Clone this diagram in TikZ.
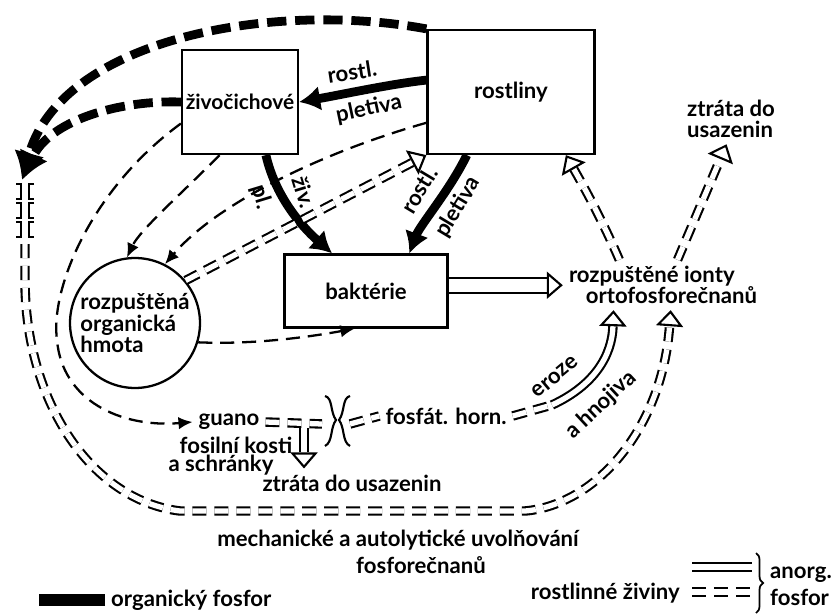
\documentclass[tikz,border=0pt]{standalone}
\usepackage{fontspec}
\setmainfont{Lato}
\usetikzlibrary{arrows.meta}
\usetikzlibrary{positioning}
\usetikzlibrary{decorations.pathreplacing}

\begin{document}
\begin{tikzpicture}[x=0.02cm, y=-0.02cm,
    every node/.style={font=\fontsize{12.6}{12.2}\selectfont\bfseries},
    box/.style={draw, line width=1.3pt, inner sep=0pt},
    org/.style={line width=5pt, -{Latex[length=0.42cm, width=0.5cm]}},
    orgdash/.style={line width=5pt, dash pattern=on 11pt off 5pt, -{Latex[length=0.55cm, width=0.62cm]}},
    detr/.style={line width=1.3pt, dash pattern=on 8pt off 4.5pt, -{Latex[length=0.28cm, width=0.25cm]}},
    inorg/.style={double, line width=1.2pt, double distance=3pt, dash pattern=on 8pt off 4.5pt},
    solid2/.style={double, line width=1.2pt, double distance=3pt},
    wide2/.style={double, line width=1.2pt, double distance=7.4pt},
    cut/.style={shorten >=0.32cm},
    tiponly/.style={line width=1.2pt, dash pattern=on 0pt off 400pt,
      -{Triangle[open, length=0.32cm, width=0.54cm]}}]
  \useasboundingbox (0,0) rectangle (835,615);

  % boxes
  \node[box, minimum width=2.32cm, minimum height=2.08cm, font=\fontsize{11.9}{12}\selectfont\bfseries] (ziv) at (240,102) {živočichové};
  \node[box, minimum width=3.34cm, minimum height=2.48cm] (rost) at (511,92) {rostliny};
  \node[box, minimum width=3.26cm, minimum height=1.46cm] (bakt) at (366,291) {baktérie};
  \node[draw, circle, line width=1.3pt, minimum size=2.6cm, inner sep=0pt, align=left] (rom) at (135,323) {rozpuštěná\\organická\\hmota};

  % texts
  \node[align=left] (ionty) at (663,285) {rozpuštěné ionty\\\hspace*{9.6pt}ortofosforečnanů};
  \node[align=left] (ztr1) at (731,119) {ztráta do\\usazenin};
  \node (guano) at (229,422) {guano};
  \node (fosil) at (236,445) {fosilní kosti};
  \node (schr) at (221,465) {a schránky};
  \node (ztr2) at (352,483) {ztráta do usazenin};
  \node (fosfat) at (446,416) {fosfát. horn.};
  \node (mech) at (398,540) {mechanické a autolytické uvolňování};
  \node (fosfor) at (421,565) {fosforečnanů};

  % organic phosphorus
  \draw[org] (rost.172) .. controls (390,84) and (340,95) .. (ziv.east);
  \node[rotate=9] (l1a) at (352,72) {rostl.};
  \node[rotate=12] (l1b) at (369,109) {pletiva};
  \draw[org] (ziv.-64) .. controls (275,195) and (300,225) .. (bakt.132);
  \node[rotate=-73] (l2a) at (304,192) {živ.};
  \node[rotate=-73] (l2b) at (261,197) {pl.};
  \draw[org] (rost.-125) .. controls (450,190) and (420,225) .. (bakt.41);
  \node[rotate=59] (l3a) at (419,190) {rostl.};
  \node[rotate=59] (l3b) at (458,207) {pletiva};

  \coordinate (leftin) at (22,180);
  \draw[orgdash] (rost.north west) .. controls (270,0) and (60,40) .. (leftin);
  \draw[orgdash] (ziv.west) .. controls (120,100) and (50,120) .. (leftin);

  % dissolved organic matter
  \draw[detr] (ziv.-160) .. controls (90,190) and (50,290) .. (57,340)
    .. controls (62,400) and (120,428) .. (guano.west);
  \draw[detr] (ziv.-111) .. controls (180,195) and (140,230) .. (rom.97);
  \draw[detr] (rost.-160) .. controls (330,150) and (220,200) .. (rom.63);
  \draw[detr] (rom.-17) .. controls (260,345) and (320,335) .. (bakt.-107);

  % inorganic phosphorus
  \draw[inorg, cut] (rom.40) -- (rost.south west);
  \draw[tiponly] (rom.40) -- (rost.south west);
  \draw[wide2, cut] (bakt.4) -- (ionty.west |- bakt.4);
  \draw[tiponly] (bakt.4) -- (ionty.west |- bakt.4);
  \draw[inorg, cut] (ionty.150) .. controls (600,215) and (580,180) .. (rost.-49);
  \draw[tiponly] (ionty.150) .. controls (600,215) and (580,180) .. (rost.-49);
  \draw[inorg, cut] (ionty.60) -- (ztr1.-100);
  \draw[tiponly] (ionty.60) -- (ztr1.-100);

  \foreach \y in {184,203,222} {
    \draw[line width=1.2pt] (16,\y) -- (21,\y) -- (21,\y+15) -- (16,\y+15);
    \draw[line width=1.2pt] (34,\y) -- (29,\y) -- (29,\y+15) -- (34,\y+15);
  }
  \coordinate (colmid) at (25,244);
  \draw[inorg, cut] (colmid) -- (25,280) .. controls (25,400) and (90,500) .. (180,511)
    -- (525,511) .. controls (595,505) and (662,430) .. (ionty.-73);
  \draw[tiponly] (525,511) .. controls (595,505) and (662,430) .. (ionty.-73);

  \coordinate (brk1) at (322,424);
  \coordinate (brk2) at (350,424);
  \draw[inorg] (guano.east) -- (brk1);
  \draw[inorg] (brk2) -- (fosfat.west);
  \draw[line width=1.2pt] (325,396) .. controls (333,398) and (330,412) .. (336,420)
    .. controls (330,428) and (333,442) .. (325,446);
  \draw[line width=1.2pt] (350,396) .. controls (342,398) and (345,412) .. (339,420)
    .. controls (345,428) and (342,442) .. (350,446);
  \coordinate (drop) at (304,428);
  \draw[solid2, cut] (drop) -- (ztr2.north -| drop);
  \draw[tiponly] (drop) -- (ztr2.north -| drop);

  \coordinate (erz) at (552,405);
  \draw[inorg] (fosfat.east) -- (erz);
  \draw[solid2, cut] (erz) .. controls (595,385) and (612,355) .. (ionty.-153);
  \draw[tiponly] (erz) .. controls (595,385) and (612,355) .. (ionty.-153);
  \node[rotate=40] (l4a) at (555,377) {eroze};
  \node[rotate=43] (l4b) at (601,405) {a hnojiva};

  % legend
  \node[anchor=west] (legorg) at (105,600) {organický fosfor};
  \draw[line width=0.24cm] (legorg.west) -- ++(-66,0);
  \node[anchor=east] (legziv) at (686,593) {rostlinné živiny};
  \coordinate (lsol) at (692,567);
  \coordinate (ldash) at (692,592);
  \draw[solid2] (lsol) -- ++(60,0);
  \draw[inorg] (ldash) -- ++(60,0);
  \coordinate (bra) at (756,553);
  \coordinate (brb) at (756,613);
  \draw[line width=1pt, decorate, decoration={brace, amplitude=4pt}] (bra) -- (brb);
  \node[anchor=west] (anorg) at (764,575) {anorg.};
  \node[anchor=west] (fosf2) at (764,597) {fosfor};
\end{tikzpicture}
\end{document}
